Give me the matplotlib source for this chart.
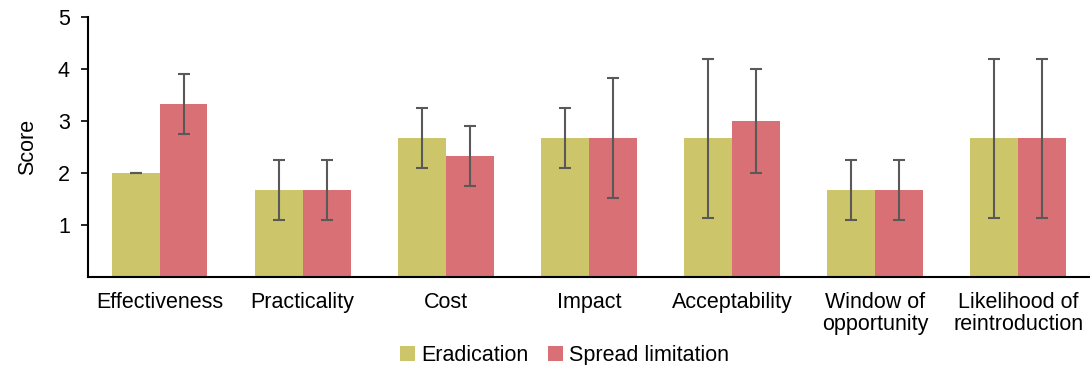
import numpy as np
import matplotlib
matplotlib.use("Agg")
import matplotlib.pyplot as plt

plt.rcParams['font.family'] = ['Liberation Sans', 'DejaVu Sans']

categories = ["Effectiveness", "Practicality", "Cost", "Impact", "Acceptability",
              "Window of\nopportunity", "Likelihood of\nreintroduction"]
eradication = [2.0, 1.67, 2.67, 2.67, 2.67, 1.67, 2.67]
eradication_err = [0.0, 0.58, 0.58, 0.58, 1.53, 0.58, 1.53]
spread = [3.33, 1.67, 2.33, 2.67, 3.0, 1.67, 2.67]
spread_err = [0.58, 0.58, 0.58, 1.15, 1.0, 0.58, 1.53]

fs = 15.5
fig = plt.figure(figsize=(10.9, 3.65), dpi=100)
ax = fig.add_axes([0.0807, 0.241, 0.9193, 0.712])

x = np.arange(len(categories))
w = 0.335
err_kw = dict(ecolor="#595959", elinewidth=1.5, capsize=4.5, capthick=1.5)
ax.bar(x - w / 2, eradication, w, yerr=eradication_err, color="#CCC56A",
       label="Eradication", error_kw=err_kw)
ax.bar(x + w / 2, spread, w, yerr=spread_err, color="#D87075",
       label="Spread limitation", error_kw=err_kw)

ax.set_xlim(-0.5, len(categories) - 0.5)
ax.set_ylim(0, 5)
ax.set_yticks([1, 2, 3, 4, 5])
ax.set_xticks(x)
ax.set_xticklabels(categories, fontsize=fs, linespacing=1.05)
ax.tick_params(axis="x", length=0, pad=11)
ax.tick_params(axis="y", labelsize=fs, direction="out", length=5, width=1.2, pad=8)
ax.set_ylabel("Score", fontsize=fs, labelpad=14)

for s in ["top", "right"]:
    ax.spines[s].set_visible(False)
ax.spines["left"].set_linewidth(1.5)
ax.spines["bottom"].set_linewidth(1.5)

fig.legend(loc="lower center", bbox_to_anchor=(0.518, -0.055), ncol=2, frameon=False,
           fontsize=fs, handlelength=0.7, handleheight=0.7, handletextpad=0.3,
           columnspacing=0.9)

fig.savefig("out.png", dpi=100)
